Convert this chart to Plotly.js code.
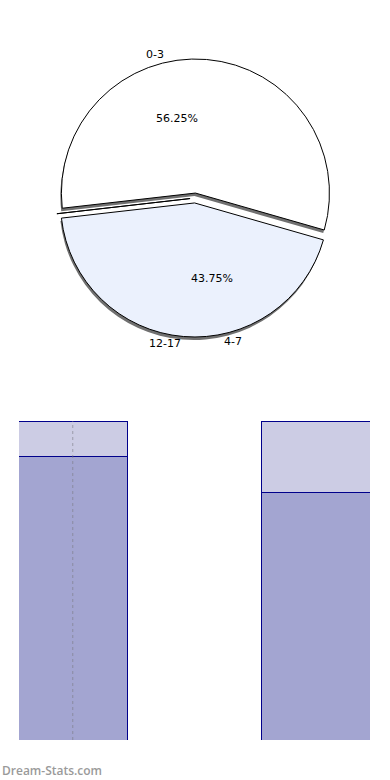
<!DOCTYPE html>
<html>
<head>
<meta charset="utf-8">
<script src="https://cdn.plot.ly/plotly-3.0.1.min.js"></script>
<style>html,body{margin:0;padding:0;background:#fff}#chart{width:390px;height:780px}</style>
</head>
<body>
<div id="chart"></div>
<script>
// ---- data ----
var pieCategories = ['0-3', '4-7', '12-17'];
var pieValues = [56.25, 0, 43.75];
var pieColors = ['#FFFFFF', '#D6DDF0', '#EBF1FD'];

var barCategories = ['Bar 1', 'Bar 2'];
var barLower = [89.0, 77.7];   // darker, bottom segment
var barUpper = [11.0, 22.3];   // lighter, top segment

// label positions (layout only)
var pieLabelPos = {'0-3': [155, 55], '4-7': [233, 341], '12-17': [165, 343]};
var piePctPos = {'0-3': [177, 118], '12-17': [212, 278]};

var W = 390, H = 780;
function px(x) { return x / W; }
function py(y) { return 1 - y / H; }

var pieDomain = {x: [0, 1], y: [py(337), py(59)]};
var pull = pieValues.map(function () { return 0.037; });
var ROT = -96.5;

var shadow = {
  type: 'pie', values: pieValues, labels: pieCategories, sort: false,
  direction: 'counterclockwise', rotation: ROT, pull: pull,
  domain: {x: [px(-2), px(388)], y: [py(340), py(62)]},
  marker: {colors: pieValues.map(function () { return '#707070'; }), line: {width: 0}},
  textinfo: 'none', hoverinfo: 'skip', showlegend: false
};

var pie = {
  type: 'pie', values: pieValues, labels: pieCategories, sort: false,
  direction: 'counterclockwise', rotation: ROT, pull: pull,
  domain: pieDomain,
  marker: {colors: pieColors, line: {color: '#000000', width: 1}},
  textinfo: 'none',
  hoverinfo: 'label+percent', showlegend: false
};

var lineStyle = {color: '#00008B', width: 1};
var barW = barCategories.map(function () { return 0.446; });
var bLower = {
  type: 'bar', x: [0, 1], y: barLower, width: barW,
  marker: {color: '#A3A5D1', line: lineStyle}, xaxis: 'x', yaxis: 'y',
  hovertext: barCategories, showlegend: false
};
var bUpper = {
  type: 'bar', x: [0, 1], y: barUpper, width: barW,
  marker: {color: '#CCCCE4', line: lineStyle}, xaxis: 'x', yaxis: 'y',
  hovertext: barCategories, showlegend: false
};

var labelFont = {family: 'DejaVu Sans', size: 11, color: '#000'};
var annotations = pieCategories.map(function (c) {
  var p = pieLabelPos[c];
  return {text: c, x: px(p[0]), y: py(p[1]), xref: 'paper', yref: 'paper',
          xanchor: 'center', yanchor: 'middle', showarrow: false, font: labelFont};
});
var total = pieValues.reduce(function (a, b) { return a + b; }, 0);
pieCategories.forEach(function (c, i) {
  if (!piePctPos[c] || pieValues[i] <= 0) return;
  var p = piePctPos[c];
  annotations.push({text: (pieValues[i] / total * 100).toFixed(2) + '%',
    x: px(p[0]), y: py(p[1]), xref: 'paper', yref: 'paper',
    xanchor: 'center', yanchor: 'middle', showarrow: false, font: labelFont});
});
annotations.push({text: 'Dream-Stats.com', x: 0, y: py(770), xref: 'paper', yref: 'paper',
  xanchor: 'left', yanchor: 'middle', showarrow: false,
  font: {family: 'Open Sans', size: 12, color: '#9a9a9a', weight: 600}});

var layout = {
  width: W, height: H, margin: {l: 0, r: 0, t: 0, b: 0},
  paper_bgcolor: '#fff', plot_bgcolor: '#fff',
  barmode: 'stack', bargap: 0,
  xaxis: {domain: [px(19), px(370)], range: [-0.221, 1.222], showgrid: false,
          zeroline: false, showticklabels: false, showline: false, ticks: ''},
  yaxis: {domain: [py(740), py(419)], range: [0.3, 100.63], showgrid: false,
          zeroline: false, showticklabels: false, showline: false, ticks: ''},
  shapes: [{type: 'line', xref: 'x', yref: 'paper', x0: 0, x1: 0,
            y0: py(740), y1: py(421), layer: 'above',
            line: {color: 'rgba(120,120,130,0.6)', width: 1, dash: 'dot'}}],
  annotations: annotations
};

Plotly.newPlot('chart', [shadow, pie, bLower, bUpper], layout, {displayModeBar: false, staticPlot: true});
</script>
</body>
</html>
